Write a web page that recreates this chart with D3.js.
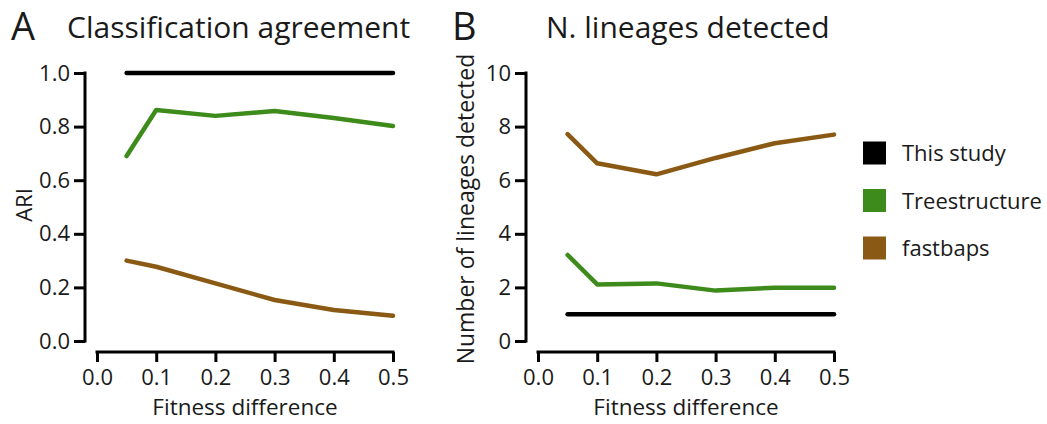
<!DOCTYPE html>
<html><head><meta charset="utf-8">
<script src="https://cdn.jsdelivr.net/npm/d3@7"></script>
<style>
body{margin:0;background:#fff;}
svg text{font-family:"Open Sans","Noto Sans",sans-serif;fill:#1a1a1a;}
</style></head>
<body><svg id="c" width="1047" height="424"></svg>
<script>
const fitness = [0.05, 0.1, 0.2, 0.3, 0.4, 0.5];
const seriesNames = ["This study", "Treestructure", "fastbaps"];
const colors = ["#000000", "#3d8b1a", "#8a5a14"];
const ariThisStudy = [1.0, 1.0, 1.0, 1.0, 1.0, 1.0];
const ariTreestructure = [0.69, 0.862, 0.84, 0.858, 0.832, 0.802];
const ariFastbaps = [0.30, 0.277, 0.215, 0.153, 0.116, 0.094];
const linThisStudy = [1, 1, 1, 1, 1, 1];
const linTreestructure = [3.21, 2.11, 2.15, 1.88, 1.99, 1.99];
const linFastbaps = [7.72, 6.63, 6.22, 6.83, 7.38, 7.7];
const xTicks = [0.0, 0.1, 0.2, 0.3, 0.4, 0.5];
const ariTicks = [0.0, 0.2, 0.4, 0.6, 0.8, 1.0];
const linTicks = [0, 2, 4, 6, 8, 10];

const svg = d3.select("#c");

function panel(opts){
  const g = svg.append("g");
  const x = d3.scaleLinear().domain([0, 0.5]).range([opts.x0, opts.x1]);
  const y = d3.scaleLinear().domain(opts.ydom).range([341, 73]);
  const ya = g.append("g").attr("transform", `translate(${opts.yAxisX},0)`)
    .call(d3.axisLeft(y).tickValues(opts.yTicks).tickFormat(opts.yFmt).tickSize(11).tickPadding(4));
  const xa = g.append("g").attr("transform", `translate(0,352)`)
    .call(d3.axisBottom(x).tickValues(xTicks).tickFormat(d3.format(".1f")).tickSize(10).tickPadding(7));
  [ya, xa].forEach(a => {
    a.select(".domain").attr("stroke", "#000").attr("stroke-width", 3);
    a.selectAll(".tick line").attr("stroke", "#000").attr("stroke-width", 3);
    a.selectAll(".tick text").attr("font-size", 22).attr("fill", "#222")
      .style("font-family", '"Open Sans","Noto Sans",sans-serif');
  });
  ya.select(".domain").attr("d", `M0,${y.range()[0] + 1.5}V${y.range()[1] - 1.5}`);
  xa.select(".domain").attr("d", `M${x.range()[0] - 1.5},0H${x.range()[1] + 1.5}`);

  const line = d3.line().x((d, i) => x(fitness[i])).y(d => y(d));
  opts.series.forEach((s, k) => {
    g.append("path").datum(s).attr("d", line).attr("fill", "none")
      .attr("stroke", colors[k]).attr("stroke-width", 4.5)
      .attr("stroke-linecap", "round").attr("stroke-linejoin", "round");
  });
  g.append("text").attr("x", (opts.x0 + opts.x1) / 2).attr("y", 415)
    .attr("text-anchor", "middle").attr("font-size", 22.5).text("Fitness difference");
  g.append("text").attr("transform", `translate(${opts.ylabX},${opts.ylabY}) rotate(-90)`)
    .attr("text-anchor", "middle").attr("font-size", opts.ylabSize).text(opts.ylab);
  g.append("text").attr("x", opts.letterX).attr("y", 40).attr("font-size", 38).text(opts.letter);
  g.append("text").attr("x", opts.titleX).attr("y", 38).attr("font-size", 30).text(opts.title);
}

panel({x0: 97, x1: 393, yAxisX: 85, ydom: [0, 1], yTicks: ariTicks, yFmt: d3.format(".1f"),
  series: [ariThisStudy, ariTreestructure, ariFastbaps], ylab: "ARI", ylabX: 32, ylabY: 205, ylabSize: 22,
  letter: "A", letterX: 11, title: "Classification agreement", titleX: 67});
panel({x0: 538, x1: 834, yAxisX: 526, ydom: [0, 10], yTicks: linTicks, yFmt: d3.format("d"),
  series: [linThisStudy, linTreestructure, linFastbaps], ylab: "Number of lineages detected", ylabX: 474, ylabY: 209, ylabSize: 23,
  letter: "B", letterX: 452, title: "N. lineages detected", titleX: 546});

const leg = svg.append("g");
seriesNames.forEach((n, i) => {
  const yy = 153 + i * 47.5;
  leg.append("rect").attr("x", 863).attr("y", yy - 11.5).attr("width", 23).attr("height", 23).attr("fill", colors[i]);
  leg.append("text").attr("x", 902).attr("y", yy + 8).attr("font-size", 22).text(n);
});
</script></body></html>
